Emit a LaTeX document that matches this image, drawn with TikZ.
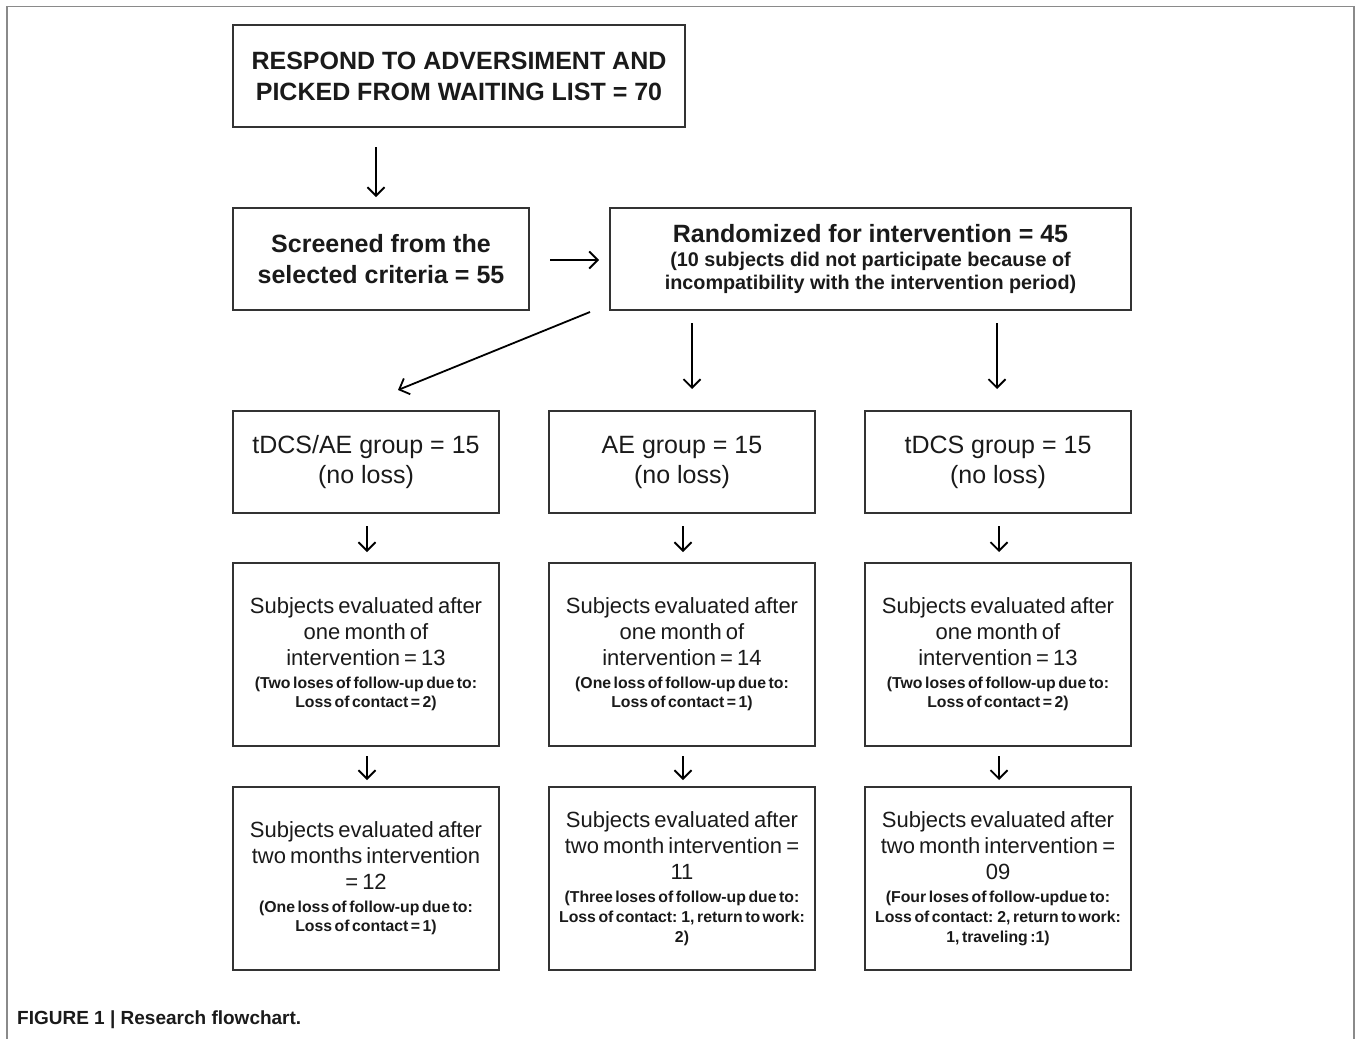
\documentclass[tikz,border=0pt]{standalone}
\usepackage{fontspec}
\setmainfont{Liberation Sans}
\usetikzlibrary{arrows.meta,calc}
\definecolor{boxc}{HTML}{333333}
\definecolor{txt}{HTML}{1A1A1A}
\definecolor{framec}{HTML}{8A8A8A}
\newcommand\myLg{\fontsize{22}{26}\selectfont\spaceskip=0.19em plus 0.05em minus 0.02em\relax}
\newcommand\mySm{\bfseries\fontsize{15.8}{19.5}\selectfont\spaceskip=0.16em plus 0.05em minus 0.02em\relax}
\newcommand\mySmb{\bfseries\fontsize{15.8}{20}\selectfont\spaceskip=0.16em plus 0.05em minus 0.02em\relax}
\newcommand\myHd{\fontsize{25}{31}\selectfont}
\newcommand\myMd{\fontsize{25}{30}\selectfont}
\begin{document}
\begin{tikzpicture}[x=1pt,y=-1pt,
  box/.style={draw=boxc, line width=2pt, inner sep=0pt, text=txt},
  arr/.style={line width=1.8pt, -{Straight Barb[length=8.5pt,width=17pt]}}]
\useasboundingbox (0,0) rectangle (1358,1039);
\fill[white] (0,0) rectangle (1358,1039);
\draw[framec, line width=1.5pt] (7,1039) -- (7,6.5) -- (1354,6.5) -- (1354,1039);

% row 1 and 2
\node[box, minimum width=452pt, minimum height=102pt] (top) at (459,76)
  {\parbox{440pt}{\centering\myHd\bfseries RESPOND TO ADVERSIMENT AND\\PICKED FROM WAITING LIST = 70}};
\node[box, minimum width=296pt, minimum height=102pt] (scr) at (381,259)
  {\parbox{290pt}{\centering\myHd\bfseries Screened from the\\selected criteria = 55}};
\node[box, minimum width=521pt, minimum height=102pt] (rand) at (870.5,259)
  {\parbox{510pt}{\centering{\myHd\bfseries Randomized for intervention = 45\par}\vspace{1.5pt}
   {\bfseries\fontsize{19.8}{22.5}\selectfont (10 subjects did not participate because of\\incompatibility with the intervention period)\par}}};

% row 3
\node[box, minimum width=266pt, minimum height=102pt] (g1) at (366,462)
  {\parbox{260pt}{\centering\myMd tDCS/AE group = 15\\(no loss)}};
\node[box, minimum width=266pt, minimum height=102pt] (g2) at (682,462)
  {\parbox{260pt}{\centering\myMd AE group = 15\\(no loss)}};
\node[box, minimum width=266pt, minimum height=102pt] (g3) at (998,462)
  {\parbox{260pt}{\centering\myMd tDCS group = 15\\(no loss)}};

% row 4
\node[box, minimum width=266pt, minimum height=183pt] (h1) at (366,654.5)
  {\parbox{262pt}{\centering{\myLg Subjects evaluated after\\one month of\\intervention = 13\par}\vspace{3pt}
   {\mySm (Two loses of follow-up due to:\\Loss of contact = 2)\par}}};
\node[box, minimum width=266pt, minimum height=183pt] (h2) at (682,654.5)
  {\parbox{262pt}{\centering{\myLg Subjects evaluated after\\one month of\\intervention = 14\par}\vspace{3pt}
   {\mySm (One loss of follow-up due to:\\Loss of contact = 1)\par}}};
\node[box, minimum width=266pt, minimum height=183pt] (h3) at (998,654.5)
  {\parbox{262pt}{\centering{\myLg Subjects evaluated after\\one month of\\intervention = 13\par}\vspace{3pt}
   {\mySm (Two loses of follow-up due to:\\Loss of contact = 2)\par}}};

% row 5
\node[box, minimum width=266pt, minimum height=183pt] (k1) at (366,878.5)
  {\parbox{262pt}{\centering{\myLg Subjects evaluated after\\two months intervention\\= 12\par}\vspace{3pt}
   {\mySm (One loss of follow-up due to:\\Loss of contact = 1)\par}}};
\node[box, minimum width=266pt, minimum height=183pt] (k2) at (682,878.5)
  {\parbox{262pt}{\centering{\myLg Subjects evaluated after\\two month intervention =\\11\par}\vspace{2.5pt}
   {\mySmb (Three loses of follow-up due to:\\Loss of contact: 1, return to work:\\2)\par}}};
\node[box, minimum width=266pt, minimum height=183pt] (k3) at (998,878.5)
  {\parbox{262pt}{\centering{\myLg Subjects evaluated after\\two month intervention =\\09\par}\vspace{2.5pt}
   {\mySmb (Four loses of follow-updue to:\\Loss of contact: 2, return to work:\\1, traveling :1)\par}}};

% caption
\node[anchor=base west, inner sep=0pt, text=txt, font=\bfseries\fontsize{19}{22}\selectfont] (cap) at (17,1024)
  {FIGURE 1 | Research flowchart.};

% arrows
\draw[arr] ($(scr.north)+(-5,-60)$) -- ($(scr.north)+(-5,-10)$);
\draw[arr] ($(scr.east)+(20,1)$) -- ($(rand.west)+(-10,1)$);
\draw[arr] ($(rand.south west)+(-19,1)$) -- ($(g1.north)+(32,-20)$);
\draw[arr] ($(rand.south -| g2.north)+(10,12)$) -- ($(g2.north)+(10,-21)$);
\draw[arr] ($(rand.south -| g3.north)+(-1,12)$) -- ($(g3.north)+(-1,-21)$);
\foreach \a/\b in {g1/h1,g2/h2,g3/h3}
  \draw[arr] ($(\a.south)+(1,12)$) -- ($(\b.north)+(1,-10)$);
\foreach \a/\b in {h1/k1,h2/k2,h3/k3}
  \draw[arr] ($(\a.south)+(1,9)$) -- ($(\b.north)+(1,-6)$);
\end{tikzpicture}
\end{document}
